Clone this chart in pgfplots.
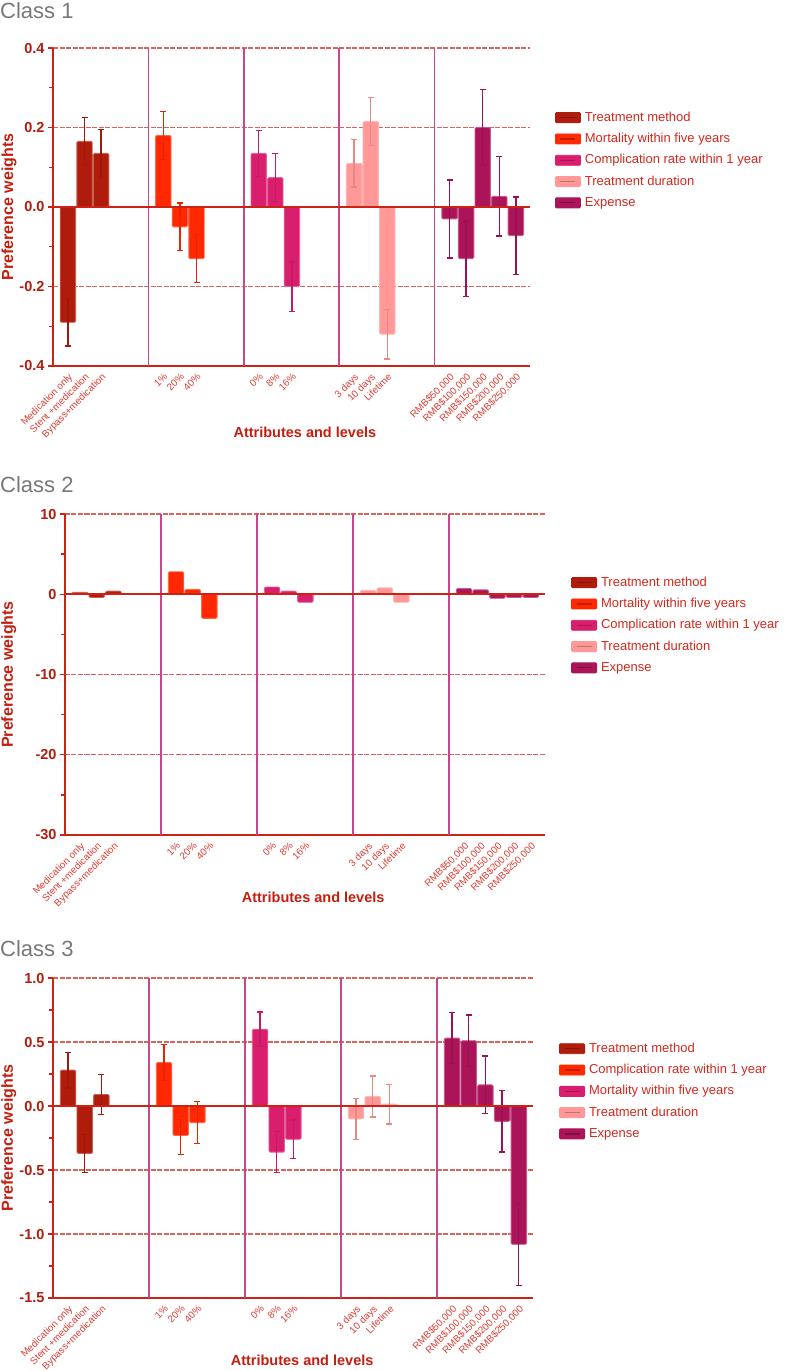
\documentclass[border=0pt]{standalone}
\usepackage{fontspec}
\setmainfont{Liberation Sans}
\usepackage{pgfplots}
\pgfplotsset{compat=1.18}
\definecolor{cA}{RGB}{176,28,12}
\definecolor{cB}{RGB}{255,40,0}
\definecolor{cC}{RGB}{218,30,110}
\definecolor{cD}{RGB}{255,152,150}
\definecolor{cE}{RGB}{172,20,90}
\definecolor{axred}{RGB}{205,35,22}
\definecolor{tickred}{RGB}{178,28,12}
\definecolor{lblred}{RGB}{196,30,15}
\definecolor{xtred}{RGB}{222,60,50}
\definecolor{legred}{RGB}{210,40,30}
\definecolor{gridred}{RGB}{218,100,90}
\definecolor{sepcol}{RGB}{200,70,140}
\definecolor{titlegray}{RGB}{120,120,120}

\pgfplotsset{
  legimg/.style={legend image code/.code={
      \fill[#1,rounded corners=1pt] (0pt,-5pt) rectangle (25pt,5pt);
      \draw[#1!75!black, line width=1.2pt] (5pt,0pt) -- (20pt,0pt);
      \node[inner sep=0pt, minimum size=0pt, draw=none, fill=none] at (29pt,0pt) {};}},
  mybase/.style={ybar, bar width=0.93, bar shift=0pt, fill=#1, draw=#1!70!white,
      line width=0.9pt, rounded corners=1.2pt, legimg=#1},
  mybar/.style={mybase=#1, error bars/.cd, y dir=both, y explicit,
      error bar style={line width=1.3pt, draw=#1!90!black},
      error mark options={rotate=90, mark size=3pt, line width=1.3pt, draw=#1!90!black}},
  panel/.style={
    scale only axis,
    xmin=0, xmax=28.75,
    axis x line*=bottom, axis y line*=left,
    axis line style={axred, line width=1.5pt},
    ymajorgrids, grid style={gridred, dash pattern=on 5pt off 1.5pt, line width=1.2pt},
    minor y tick num=1,
    tick align=outside,
    y tick style={axred, line width=1.3pt},
    major tick length=5pt, minor tick length=3.5pt,
    x tick style={draw=none},
    xtick={0.9,1.9,2.9,6.65,7.65,8.65,12.4,13.4,14.4,18.15,19.15,20.15,23.9,24.9,25.9,26.9,27.9},
    xticklabels={Medication only,Stent +medication,Bypass+medication,1\%,20\%,40\%,0\%,8\%,16\%,3 days,10 days,Lifetime,{RMB\$50,000},{RMB\$100,000},{RMB\$150,000},{RMB\$200,000},{RMB\$250,000}},
    xticklabel style={rotate=45, anchor=north east, font=\fontsize{9.8}{11}\selectfont, text=xtred, inner sep=1pt},
    yticklabel style={font=\fontsize{14.5}{16}\selectfont\bfseries, text=tickred},
    extra x ticks={5.75,11.5,17.25,23},
    extra x tick labels={},
    extra x tick style={grid=major, major grid style={solid, sepcol, line width=1.5pt}},
    xlabel={Attributes and levels},
    ylabel={Preference weights},
    xlabel style={font=\fontsize{14.5}{16}\selectfont\bfseries, text=lblred, anchor=center},
    ylabel style={font=\fontsize{16}{18}\selectfont\bfseries, text=lblred, anchor=center, rotate=0},
    legend style={draw=none, fill=none, anchor=north west, font=\fontsize{13}{15}\selectfont, text=legred,
       row sep=8.3pt, inner sep=0pt, nodes={inner sep=0pt, text height=10pt, text depth=3pt}},
    legend cell align=left,
  }
}

\begin{document}
\begin{tikzpicture}
\useasboundingbox (0,0) rectangle (786pt,-1371pt);

% ---------------- Class 1 ----------------
\node[anchor=base west, inner sep=0pt, text=titlegray, font=\fontsize{22}{24}\selectfont] at (0pt,-18.5pt) {Class 1};
\begin{axis}[panel, at={(53pt,-366pt)}, anchor=south west, width=477pt, height=318pt,
  ymin=-0.4, ymax=0.4, ytick={-0.4,-0.2,0,0.2,0.4}, yticklabels={-0.4,-0.2,0.0,0.2,0.4},
  xlabel style={at={(axis description cs:0.528,-0.21)}},
  ylabel style={at={(axis description cs:-0.092,0.5)}},
  legend style={at={(axis description cs:1.052,0.802)}}]
\addplot[mybar=cA] coordinates {(0.9,-0.29) +- (0,0.06) (1.9,0.165) +- (0,0.06) (2.9,0.135) +- (0,0.06)};
\addlegendentry{Treatment method}
\addplot[mybar=cB] coordinates {(6.65,0.18) +- (0,0.06) (7.65,-0.05) +- (0,0.06) (8.65,-0.13) +- (0,0.06)};
\addlegendentry{Mortality within five years}
\addplot[mybar=cC] coordinates {(12.4,0.135) +- (0,0.058) (13.4,0.074) +- (0,0.06) (14.4,-0.20) +- (0,0.062)};
\addlegendentry{Complication rate within 1 year}
\addplot[mybar=cD] coordinates {(18.15,0.11) +- (0,0.06) (19.15,0.215) +- (0,0.06) (20.15,-0.32) +- (0,0.062)};
\addlegendentry{Treatment duration}
\addplot[mybar=cE] coordinates {(23.9,-0.03) +- (0,0.098) (24.9,-0.13) +- (0,0.095) (25.9,0.20) +- (0,0.096) (26.9,0.027) +- (0,0.1) (27.9,-0.072) +- (0,0.097)};
\addlegendentry{Expense}
\draw[axred, line width=1.6pt] (axis cs:0,0) -- (axis cs:28.75,0);
\end{axis}

% ---------------- Class 2 ----------------
\node[anchor=base west, inner sep=0pt, text=titlegray, font=\fontsize{22}{24}\selectfont] at (0pt,-492pt) {Class 2};
\begin{axis}[panel, at={(65pt,-835pt)}, anchor=south west, width=480pt, height=321pt,
  ymin=-30, ymax=10, ytick={-30,-20,-10,0,10}, yticklabels={-30,-20,-10,0,10},
  xlabel style={at={(axis description cs:0.517,-0.193)}},
  ylabel style={at={(axis description cs:-0.117,0.5)}},
  legend style={at={(axis description cs:1.054,0.807)}}]
\addplot[mybase=cA] coordinates {(0.9,0.25) (1.9,-0.4) (2.9,0.4)};
\addlegendentry{Treatment method}
\addplot[mybase=cB] coordinates {(6.65,2.8) (7.65,0.6) (8.65,-3.0)};
\addlegendentry{Mortality within five years}
\addplot[mybase=cC] coordinates {(12.4,0.9) (13.4,0.4) (14.4,-1.0)};
\addlegendentry{Complication rate within 1 year}
\addplot[mybase=cD] coordinates {(18.15,0.5) (19.15,0.8) (20.15,-1.0)};
\addlegendentry{Treatment duration}
\addplot[mybase=cE] coordinates {(23.9,0.7) (24.9,0.55) (25.9,-0.5) (26.9,-0.4) (27.9,-0.4)};
\addlegendentry{Expense}
\draw[axred, line width=1.6pt] (axis cs:0,0) -- (axis cs:28.75,0);
\end{axis}

% ---------------- Class 3 ----------------
\node[anchor=base west, inner sep=0pt, text=titlegray, font=\fontsize{22}{24}\selectfont] at (0pt,-956pt) {Class 3};
\begin{axis}[panel, at={(53pt,-1298pt)}, anchor=south west, width=480pt, height=320pt,
  ymin=-1.5, ymax=1, ytick={-1.5,-1,-0.5,0,0.5,1}, yticklabels={-1.5,-1.0,-0.5,0.0,0.5,1.0},
  xlabel style={at={(axis description cs:0.519,-0.194)}},
  ylabel style={at={(axis description cs:-0.092,0.5)}},
  legend style={at={(axis description cs:1.054,0.80), row sep=9.5pt}}]
\addplot[mybar=cA] coordinates {(0.9,0.28) +- (0,0.14) (1.9,-0.37) +- (0,0.15) (2.9,0.09) +- (0,0.155)};
\addlegendentry{Treatment method}
\addplot[mybar=cB] coordinates {(6.65,0.34) +- (0,0.14) (7.65,-0.23) +- (0,0.15) (8.65,-0.13) +- (0,0.165)};
\addlegendentry{Complication rate within 1 year}
\addplot[mybar=cC] coordinates {(12.4,0.60) +- (0,0.135) (13.4,-0.36) +- (0,0.16) (14.4,-0.26) +- (0,0.15)};
\addlegendentry{Mortality within five years}
\addplot[mybar=cD] coordinates {(18.15,-0.10) +- (0,0.16) (19.15,0.075) +- (0,0.16) (20.15,0.015) +- (0,0.155)};
\addlegendentry{Treatment duration}
\addplot[mybar=cE] coordinates {(23.9,0.53) +- (0,0.2) (24.9,0.51) +- (0,0.2) (25.9,0.165) +- (0,0.225) (26.9,-0.12) +- (0,0.24) (27.9,-1.08) +- (0,0.32)};
\addlegendentry{Expense}
\draw[axred, line width=1.6pt] (axis cs:0,0) -- (axis cs:28.75,0);
\end{axis}
\end{tikzpicture}
\end{document}
